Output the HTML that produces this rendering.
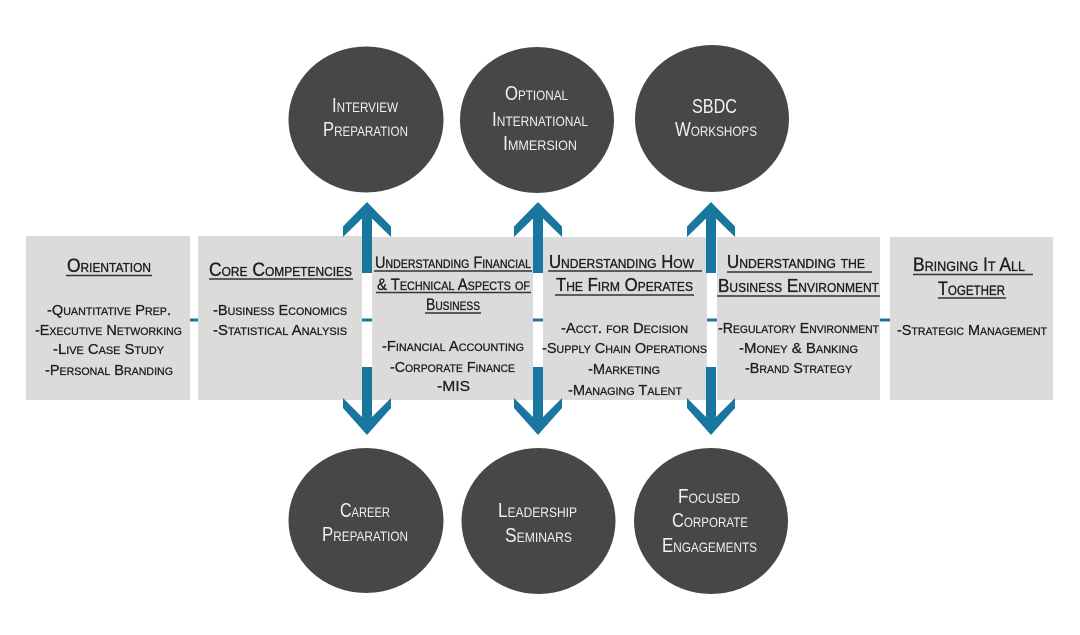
<!DOCTYPE html>
<html>
<head>
<meta charset="utf-8">
<style>
html,body{margin:0;padding:0;background:#ffffff;}
svg{display:block;}
text{font-family:"Liberation Sans","DejaVu Sans",sans-serif;font-variant:small-caps;}
.c{fill:#f1f1f1;font-size:20px;}
.t{fill:#1e1e1e;font-size:19px;stroke:#1e1e1e;stroke-width:0.35;}
.b{fill:#1e1e1e;font-size:15px;stroke:#1e1e1e;stroke-width:0.3;}
.ul{stroke:#333;stroke-width:1.4;}
</style>
</head>
<body>
<svg width="1080" height="635" viewBox="0 0 1080 635" xmlns="http://www.w3.org/2000/svg">
<rect x="0" y="0" width="1080" height="635" fill="#ffffff"/>

<!-- top circles -->
<ellipse cx="366" cy="119.5" rx="77.5" ry="73" fill="#474747"/>
<ellipse cx="537" cy="120" rx="77" ry="73" fill="#474747"/>
<ellipse cx="712" cy="118.5" rx="77" ry="73.5" fill="#474747"/>
<!-- bottom circles -->
<ellipse cx="366" cy="520.5" rx="77.5" ry="72.5" fill="#474747"/>
<ellipse cx="538.5" cy="521" rx="77" ry="73" fill="#474747"/>
<ellipse cx="711" cy="521" rx="77" ry="73" fill="#474747"/>

<!-- circle text -->
<text class="c" x="365" y="112" text-anchor="middle" textLength="66" lengthAdjust="spacingAndGlyphs">Interview</text>
<text class="c" x="365.5" y="136" text-anchor="middle" textLength="85" lengthAdjust="spacingAndGlyphs">Preparation</text>

<text class="c" x="536.5" y="100" text-anchor="middle" textLength="63" lengthAdjust="spacingAndGlyphs">Optional</text>
<text class="c" x="540" y="126" text-anchor="middle" textLength="96" lengthAdjust="spacingAndGlyphs">International</text>
<text class="c" x="540" y="150" text-anchor="middle" textLength="74" lengthAdjust="spacingAndGlyphs">Immersion</text>

<text class="c" x="714.5" y="113" text-anchor="middle" textLength="45" lengthAdjust="spacingAndGlyphs">SBDC</text>
<text class="c" x="716" y="136" text-anchor="middle" textLength="82" lengthAdjust="spacingAndGlyphs">Workshops</text>

<text class="c" x="365" y="517" text-anchor="middle" textLength="50" lengthAdjust="spacingAndGlyphs">Career</text>
<text class="c" x="365" y="541" text-anchor="middle" textLength="86" lengthAdjust="spacingAndGlyphs">Preparation</text>

<text class="c" x="537.5" y="517" text-anchor="middle" textLength="79" lengthAdjust="spacingAndGlyphs">Leadership</text>
<text class="c" x="538.5" y="542" text-anchor="middle" textLength="67" lengthAdjust="spacingAndGlyphs">Seminars</text>

<text class="c" x="709" y="503" text-anchor="middle" textLength="62" lengthAdjust="spacingAndGlyphs">Focused</text>
<text class="c" x="710" y="527" text-anchor="middle" textLength="76" lengthAdjust="spacingAndGlyphs">Corporate</text>
<text class="c" x="709.5" y="552" text-anchor="middle" textLength="95" lengthAdjust="spacingAndGlyphs">Engagements</text>

<!-- boxes -->
<g fill="#dcdbdb">
<rect x="26" y="236" width="164" height="164"/>
<rect x="198" y="236" width="164" height="164"/>
<rect x="372" y="237" width="161" height="163"/>
<rect x="543" y="237" width="164" height="163"/>
<rect x="717" y="237" width="163" height="163"/>
<rect x="890" y="237" width="163" height="163"/>
</g>

<!-- connector dashes -->
<g fill="#18769f">
<rect x="190" y="318.5" width="8" height="3"/>
<rect x="362" y="318.5" width="10" height="3"/>
<rect x="533" y="318.5" width="10" height="3"/>
<rect x="707" y="318.5" width="10" height="3"/>
<rect x="880" y="318.5" width="10" height="3"/>
</g>

<!-- arrows -->
<g fill="#18769f">
<polygon points="367,202 391,226.5 391,237 372,218.5 372,273 362,273 362,218.5 343,237 343,226.5"/>
<polygon points="367,435 391,408 391,398 372,417 372,367 362,367 362,417 343,398 343,408"/>
<polygon points="538,202 562,226.5 562,237 543,218.5 543,273 533,273 533,218.5 514,237 514,226.5"/>
<polygon points="538,435 562,408 562,398 543,417 543,367 533,367 533,417 514,398 514,408"/>
<polygon points="711,202 735,226.5 735,237 716,218.5 716,273 706,273 706,218.5 687,237 687,226.5"/>
<polygon points="711,435 735,408 735,398 716,417 716,367 706,367 706,417 687,398 687,408"/>
</g>

<!-- Box 1 -->
<text class="t" x="109" y="272" text-anchor="middle" textLength="84" lengthAdjust="spacingAndGlyphs">Orientation</text>
<line class="ul" x1="66" y1="275.5" x2="152" y2="275.5"/>
<text class="b" x="109" y="315" text-anchor="middle" textLength="124" lengthAdjust="spacingAndGlyphs">-Quantitative Prep.</text>
<text class="b" x="108.5" y="335" text-anchor="middle" textLength="147" lengthAdjust="spacingAndGlyphs">-Executive Networking</text>
<text class="b" x="108.5" y="354" text-anchor="middle" textLength="111" lengthAdjust="spacingAndGlyphs">-Live Case Study</text>
<text class="b" x="109" y="375" text-anchor="middle" textLength="128" lengthAdjust="spacingAndGlyphs">-Personal Branding</text>

<!-- Box 2 -->
<text class="t" x="280.5" y="276" text-anchor="middle" textLength="143" lengthAdjust="spacingAndGlyphs">Core Competencies</text>
<line class="ul" x1="209" y1="279" x2="353" y2="279"/>
<text class="b" x="280" y="315" text-anchor="middle" textLength="134" lengthAdjust="spacingAndGlyphs">-Business Economics</text>
<text class="b" x="280" y="335" text-anchor="middle" textLength="134" lengthAdjust="spacingAndGlyphs">-Statistical Analysis</text>

<!-- Box 3 -->
<text class="t" style="font-size:16.5px" x="453" y="268" text-anchor="middle" textLength="156" lengthAdjust="spacingAndGlyphs">Understanding Financial</text>
<line class="ul" x1="374" y1="271" x2="532" y2="271"/>
<text class="t" style="font-size:16.5px" x="453.5" y="290" text-anchor="middle" textLength="153" lengthAdjust="spacingAndGlyphs">&amp; Technical Aspects of</text>
<line class="ul" x1="376" y1="292.5" x2="531" y2="292.5"/>
<text class="t" style="font-size:16.5px" x="453" y="310" text-anchor="middle" textLength="54" lengthAdjust="spacingAndGlyphs">Business</text>
<line class="ul" x1="425" y1="313" x2="481" y2="313"/>
<text class="b" x="453" y="351" text-anchor="middle" textLength="142" lengthAdjust="spacingAndGlyphs">-Financial Accounting</text>
<text class="b" x="452.5" y="372" text-anchor="middle" textLength="125" lengthAdjust="spacingAndGlyphs">-Corporate Finance</text>
<text class="b" x="453.5" y="391" text-anchor="middle" textLength="33" lengthAdjust="spacingAndGlyphs">-MIS</text>

<!-- Box 4 -->
<text class="t" style="font-size:18px" x="621.5" y="268" text-anchor="middle" textLength="145" lengthAdjust="spacingAndGlyphs">Understanding How</text>
<line class="ul" x1="548" y1="271" x2="702" y2="271"/>
<text class="t" style="font-size:18px" x="624.5" y="291" text-anchor="middle" textLength="137" lengthAdjust="spacingAndGlyphs">The Firm Operates</text>
<line class="ul" x1="555" y1="295" x2="694" y2="295"/>
<text class="b" x="624.5" y="333" text-anchor="middle" textLength="127" lengthAdjust="spacingAndGlyphs">-Acct. for Decision</text>
<text class="b" x="624.5" y="353" text-anchor="middle" textLength="165" lengthAdjust="spacingAndGlyphs">-Supply Chain Operations</text>
<text class="b" x="624" y="374" text-anchor="middle" textLength="72" lengthAdjust="spacingAndGlyphs">-Marketing</text>
<text class="b" x="625" y="395" text-anchor="middle" textLength="114" lengthAdjust="spacingAndGlyphs">-Managing Talent</text>

<!-- Box 5 -->
<text class="t" style="font-size:18px" x="796" y="268" text-anchor="middle" textLength="138" lengthAdjust="spacingAndGlyphs">Understanding the</text>
<line class="ul" x1="727" y1="272" x2="872" y2="272"/>
<text class="t" style="font-size:18.5px" x="798.5" y="292" text-anchor="middle" textLength="161" lengthAdjust="spacingAndGlyphs">Business Environment</text>
<line class="ul" x1="717" y1="296" x2="880" y2="296"/>
<text class="b" x="798.5" y="333" text-anchor="middle" textLength="161" lengthAdjust="spacingAndGlyphs">-Regulatory Environment</text>
<text class="b" x="798.5" y="353" text-anchor="middle" textLength="119" lengthAdjust="spacingAndGlyphs">-Money &amp; Banking</text>
<text class="b" x="798.5" y="373" text-anchor="middle" textLength="107" lengthAdjust="spacingAndGlyphs">-Brand Strategy</text>

<!-- Box 6 -->
<text class="t" style="font-size:19.5px" x="969" y="271" text-anchor="middle" textLength="112" lengthAdjust="spacingAndGlyphs">Bringing It All</text>
<line class="ul" x1="913" y1="274.5" x2="1033" y2="274.5"/>
<text class="t" style="font-size:19.5px" x="971.5" y="295" text-anchor="middle" textLength="67" lengthAdjust="spacingAndGlyphs">Together</text>
<line class="ul" x1="938" y1="298" x2="1006" y2="298"/>
<text class="b" x="972" y="335" text-anchor="middle" textLength="150" lengthAdjust="spacingAndGlyphs">-Strategic Management</text>
</svg>
</body>
</html>
